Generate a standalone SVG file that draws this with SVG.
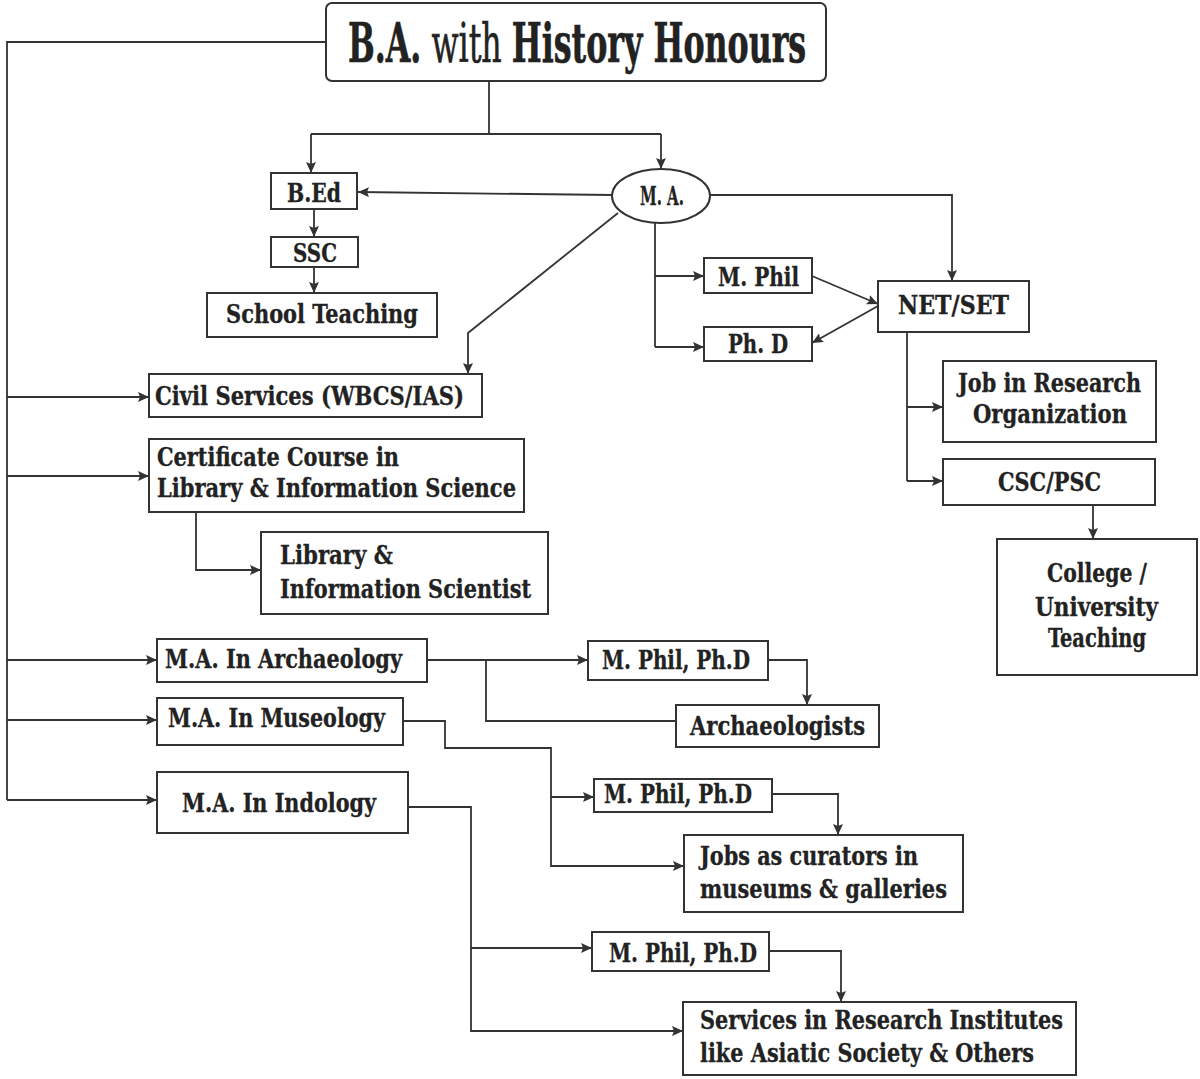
<svg xmlns="http://www.w3.org/2000/svg" width="1200" height="1079" viewBox="0 0 1200 1079">
<style>
.box{fill:#fff;stroke:#333;stroke-width:2}
.ln{fill:none;stroke:#333;stroke-width:1.8}
.t{font-family:"DejaVu Serif Condensed","DejaVu Serif","Liberation Serif",serif;font-weight:bold;font-size:26px;fill:#222;stroke:#222;stroke-width:0.3}
.tt{font-family:"DejaVu Serif Condensed","DejaVu Serif","Liberation Serif",serif;font-size:54px;fill:#222;stroke:#222;stroke-width:0.6}
</style>
<defs>
<marker id="ah" markerWidth="12" markerHeight="10" refX="11" refY="5" orient="auto" markerUnits="userSpaceOnUse">
<path d="M0,0 L11,5 L0,10 L2,5 z" fill="#333"/>
</marker>
</defs>
<rect width="1200" height="1079" fill="#fff"/>

<g id="connectors">
<path class="ln" d="M326,42 H7 V800"/>
<path class="ln" d="M7,397 H149" marker-end="url(#ah)"/>
<path class="ln" d="M7,476 H149" marker-end="url(#ah)"/>
<path class="ln" d="M7,660 H157" marker-end="url(#ah)"/>
<path class="ln" d="M7,720 H157" marker-end="url(#ah)"/>
<path class="ln" d="M7,800 H157" marker-end="url(#ah)"/>
<path class="ln" d="M489,81 V134 M311,134 H661"/>
<path class="ln" d="M311,134 V173" marker-end="url(#ah)"/>
<path class="ln" d="M661,134 V169" marker-end="url(#ah)"/>
<path class="ln" d="M314,209 V237" marker-end="url(#ah)"/>
<path class="ln" d="M314,267 V293" marker-end="url(#ah)"/>
<path class="ln" d="M613,195 L358,192" marker-end="url(#ah)"/>
<path class="ln" d="M710,195 H952 V281" marker-end="url(#ah)"/>
<path class="ln" d="M618,213 L468,333 V374" marker-end="url(#ah)"/>
<path class="ln" d="M655,222 V347"/>
<path class="ln" d="M655,276 H704" marker-end="url(#ah)"/>
<path class="ln" d="M655,347 H704" marker-end="url(#ah)"/>
<path class="ln" d="M812,276 L878,304" marker-end="url(#ah)"/>
<path class="ln" d="M878,306 L812,343" marker-end="url(#ah)"/>
<path class="ln" d="M907,332 V481"/>
<path class="ln" d="M907,407 H943" marker-end="url(#ah)"/>
<path class="ln" d="M907,481 H943" marker-end="url(#ah)"/>
<path class="ln" d="M1093,505 V539" marker-end="url(#ah)"/>
<path class="ln" d="M196,512 V570 H261" marker-end="url(#ah)"/>
<path class="ln" d="M427,660 H588" marker-end="url(#ah)"/>
<path class="ln" d="M486,660 V721 H676"/>
<path class="ln" d="M768,660 H807 V705" marker-end="url(#ah)"/>
<path class="ln" d="M403,721 H445 V748 H551 V866 H684" marker-end="url(#ah)"/>
<path class="ln" d="M551,797 H594" marker-end="url(#ah)"/>
<path class="ln" d="M772,794 H838 V835" marker-end="url(#ah)"/>
<path class="ln" d="M408,807 H471 V1031 H683" marker-end="url(#ah)"/>
<path class="ln" d="M471,948 H592" marker-end="url(#ah)"/>
<path class="ln" d="M769,951 H841 V1002" marker-end="url(#ah)"/>
</g>

<g id="title">
<rect class="box" x="326" y="3" width="500" height="78" rx="6"/>
<text class="tt" transform="translate(348,62) scale(0.58,1)" x="0" y="0" textLength="790" lengthAdjust="spacingAndGlyphs"><tspan font-weight="bold">B.A.</tspan> with <tspan font-weight="bold">History Honours</tspan></text>
</g>

<g id="bed"><rect class="box" x="271" y="173" width="86" height="36"/>
<text class="t" x="287" y="202" textLength="54" lengthAdjust="spacingAndGlyphs">B.Ed</text></g>
<g id="ssc"><rect class="box" x="271" y="237" width="87" height="30"/>
<text class="t" x="293" y="262" textLength="44" lengthAdjust="spacingAndGlyphs">SSC</text></g>
<g id="school"><rect class="box" x="207" y="293" width="230" height="44"/>
<text class="t" x="226" y="323" textLength="192" lengthAdjust="spacingAndGlyphs">School Teaching</text></g>
<g id="ma"><ellipse class="box" cx="661" cy="196" rx="49" ry="27"/>
<text class="t" x="640" y="205" font-size="28" textLength="44" lengthAdjust="spacingAndGlyphs">M. A.</text></g>
<g id="mphil"><rect class="box" x="704" y="258" width="108" height="35"/>
<text class="t" x="718" y="286" textLength="81" lengthAdjust="spacingAndGlyphs">M. Phil</text></g>
<g id="phd"><rect class="box" x="704" y="327" width="108" height="34"/>
<text class="t" x="728" y="353" textLength="60" lengthAdjust="spacingAndGlyphs">Ph. D</text></g>
<g id="netset"><rect class="box" x="878" y="281" width="151" height="51"/>
<text class="t" x="898" y="314" textLength="111" lengthAdjust="spacingAndGlyphs">NET/SET</text></g>
<g id="job"><rect class="box" x="943" y="361" width="213" height="81"/>
<text class="t" x="958" y="392" textLength="183" lengthAdjust="spacingAndGlyphs">Job in Research</text>
<text class="t" x="973" y="423" textLength="154" lengthAdjust="spacingAndGlyphs">Organization</text></g>
<g id="csc"><rect class="box" x="943" y="459" width="212" height="46"/>
<text class="t" x="998" y="491" textLength="103" lengthAdjust="spacingAndGlyphs">CSC/PSC</text></g>
<g id="college"><rect class="box" x="997" y="539" width="200" height="136"/>
<text class="t" x="1047" y="582" textLength="100" lengthAdjust="spacingAndGlyphs">College /</text>
<text class="t" x="1035" y="616" textLength="123" lengthAdjust="spacingAndGlyphs">University</text>
<text class="t" x="1048" y="647" textLength="98" lengthAdjust="spacingAndGlyphs">Teaching</text></g>
<g id="civil"><rect class="box" x="149" y="374" width="333" height="43"/>
<text class="t" x="155" y="405" textLength="309" lengthAdjust="spacingAndGlyphs">Civil Services (WBCS/IAS)</text></g>
<g id="cert"><rect class="box" x="149" y="439" width="375" height="73"/>
<text class="t" x="157" y="466" textLength="242" lengthAdjust="spacingAndGlyphs">Certificate Course in</text>
<text class="t" x="157" y="497" textLength="359" lengthAdjust="spacingAndGlyphs">Library &amp; Information Science</text></g>
<g id="libsci"><rect class="box" x="261" y="532" width="287" height="82"/>
<text class="t" x="280" y="564" textLength="113" lengthAdjust="spacingAndGlyphs">Library &amp;</text>
<text class="t" x="280" y="598" textLength="251" lengthAdjust="spacingAndGlyphs">Information Scientist</text></g>
<g id="arch"><rect class="box" x="157" y="639" width="270" height="43"/>
<text class="t" x="165" y="668" textLength="237" lengthAdjust="spacingAndGlyphs">M.A. In Archaeology</text></g>
<g id="archmp"><rect class="box" x="588" y="641" width="180" height="39"/>
<text class="t" x="602" y="669" textLength="148" lengthAdjust="spacingAndGlyphs">M. Phil, Ph.D</text></g>
<g id="archaeologists"><rect class="box" x="676" y="705" width="203" height="42"/>
<text class="t" x="690" y="735" textLength="175" lengthAdjust="spacingAndGlyphs">Archaeologists</text></g>
<g id="mus"><rect class="box" x="157" y="698" width="246" height="47"/>
<text class="t" x="168" y="727" textLength="217" lengthAdjust="spacingAndGlyphs">M.A. In Museology</text></g>
<g id="musmp"><rect class="box" x="594" y="779" width="178" height="33"/>
<text class="t" x="604" y="803" textLength="148" lengthAdjust="spacingAndGlyphs">M. Phil, Ph.D</text></g>
<g id="jobs"><rect class="box" x="684" y="835" width="279" height="77"/>
<text class="t" x="700" y="865" textLength="218" lengthAdjust="spacingAndGlyphs">Jobs as curators in</text>
<text class="t" x="700" y="898" textLength="247" lengthAdjust="spacingAndGlyphs">museums &amp; galleries</text></g>
<g id="ind"><rect class="box" x="157" y="772" width="251" height="61"/>
<text class="t" x="182" y="812" textLength="194" lengthAdjust="spacingAndGlyphs">M.A. In Indology</text></g>
<g id="indmp"><rect class="box" x="592" y="932" width="177" height="39"/>
<text class="t" x="609" y="962" textLength="148" lengthAdjust="spacingAndGlyphs">M. Phil, Ph.D</text></g>
<g id="services"><rect class="box" x="683" y="1002" width="393" height="73"/>
<text class="t" x="700" y="1029" textLength="363" lengthAdjust="spacingAndGlyphs">Services in Research Institutes</text>
<text class="t" x="700" y="1062" textLength="334" lengthAdjust="spacingAndGlyphs">like Asiatic Society &amp; Others</text></g>
</svg>
